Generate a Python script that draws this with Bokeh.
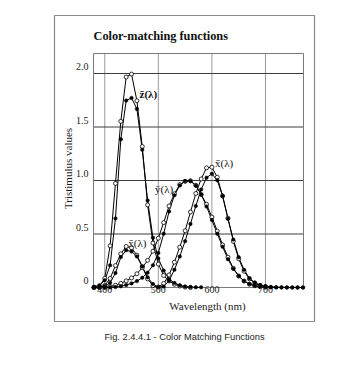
import math
from bokeh.plotting import figure
from bokeh.embed import file_html
from bokeh.resources import INLINE
from bokeh.models import Range1d, Title
from bokeh.core.properties import value

# ---------------- data ----------------
# CIE 1931 2-degree observer (filled dots)
wl_1931 = [380, 390, 400, 410, 420, 430, 440, 450, 460, 470, 480, 490, 500, 510, 520,
           530, 540, 550, 560, 570, 580, 590, 600, 610, 620, 630, 640, 650, 660, 670,
           680, 690, 700, 710, 720, 730, 740, 750, 760, 770]
x_1931 = [0.0014, 0.0042, 0.0143, 0.0435, 0.1344, 0.2839, 0.3483, 0.3362, 0.2908, 0.1954,
          0.0956, 0.0320, 0.0049, 0.0093, 0.0633, 0.1655, 0.2904, 0.4334, 0.5945, 0.7621,
          0.9163, 1.0263, 1.0622, 1.0026, 0.8544, 0.6424, 0.4479, 0.2835, 0.1649, 0.0874,
          0.0468, 0.0227, 0.0114, 0.0058, 0.0029, 0.0014, 0.0007, 0.0003, 0.0002, 0.0001]
y_1931 = [0.0000, 0.0001, 0.0004, 0.0012, 0.0040, 0.0116, 0.0230, 0.0380, 0.0600, 0.0910,
          0.1390, 0.2080, 0.3230, 0.5030, 0.7100, 0.8620, 0.9540, 0.9950, 0.9950, 0.9520,
          0.8700, 0.7570, 0.6310, 0.5030, 0.3810, 0.2650, 0.1750, 0.1070, 0.0610, 0.0320,
          0.0170, 0.0082, 0.0041, 0.0021, 0.0010, 0.0005, 0.0002, 0.0001, 0.0001, 0.0000]
wl_z_1931 = [380, 390, 400, 410, 420, 430, 440, 450, 460, 470, 480, 490, 500, 510, 520,
             530, 540, 550, 560, 570, 580]
z_1931 = [0.0065, 0.0201, 0.0679, 0.2074, 0.6456, 1.3856, 1.7471, 1.7721, 1.6692, 1.2876,
          0.8130, 0.4652, 0.2720, 0.1582, 0.0782, 0.0422, 0.0203, 0.0087, 0.0039, 0.0021,
          0.0017]

# CIE 1964 10-degree observer (open circles)
wl_1964 = [380, 390, 400, 410, 420, 430, 440, 450, 460, 470, 480, 490, 500, 510, 520,
           530, 540, 550, 560, 570, 580, 590, 600, 610, 620, 630, 640, 650, 660, 670,
           680, 690, 700]
x_1964 = [0.0002, 0.0024, 0.0191, 0.0847, 0.2045, 0.3147, 0.3837, 0.3707, 0.3023, 0.1956,
          0.0805, 0.0162, 0.0038, 0.0375, 0.1177, 0.2365, 0.3768, 0.5298, 0.7052, 0.8787,
          1.0142, 1.1185, 1.1240, 1.0305, 0.8563, 0.6475, 0.4316, 0.2683, 0.1526, 0.0813,
          0.0409, 0.0199, 0.0096]
y_1964 = [0.0000, 0.0003, 0.0020, 0.0088, 0.0214, 0.0387, 0.0621, 0.0895, 0.1282, 0.1852,
          0.2536, 0.3391, 0.4608, 0.6067, 0.7618, 0.8752, 0.9620, 0.9918, 0.9973, 0.9556,
          0.8689, 0.7774, 0.6583, 0.5280, 0.3981, 0.2835, 0.1798, 0.1076, 0.0603, 0.0318,
          0.0159, 0.0077, 0.0037]
wl_z_1964 = [380, 390, 400, 410, 420, 430, 440, 450, 460, 470, 480, 490, 500, 510, 520,
             530, 540, 550, 560]
z_1964 = [0.0007, 0.0105, 0.0860, 0.3894, 0.9725, 1.5535, 1.9673, 1.9948, 1.7454, 1.3176,
          0.7721, 0.4153, 0.2185, 0.1120, 0.0607, 0.0305, 0.0137, 0.0040, 0.0000]

x_ticks = [400, 500, 600, 700]
x_tick_labels = ["400", "500", "600", "700"]
y_ticks = [0, 0.5, 1.0, 1.5, 2.0]
y_tick_labels = ["0", "0.5", "1.0", "1.5", "2.0"]
y_grid = [0.5, 1.0, 1.5, 2.0]

curve_labels = ["z\u0304(\u03bb)", "x\u0304(\u03bb)", "y\u0304(\u03bb)", "x\u0304(\u03bb)"]
curve_label_x = [465, 606, 494, 444]
curve_label_y = [1.81, 1.16, 0.92, 0.42]

title = "Color-matching functions"
x_title = "Wavelength (nm)"
y_title = "Tristimulus values"
caption = "Fig. 2.4.4.1 - Color Matching Functions"

# ---------------- geometry ----------------
X_LO, X_HI = 379.0, 771.0          # plotted wavelength range (inner box)
Y_LO, Y_HI = 0.0, 2.187            # plotted value range (inner box)
PX0, PX1, PY0, PY1 = 93, 303, 53, 287   # inner box on the page (px)
FL, FR, FT, FB = 54, 314, 15, 321        # outer figure box = Bokeh frame (px)
W, H = 356, 365                          # canvas size (px), placed at page (0, 0)
sx = (PX1 - PX0) / (X_HI - X_LO)
sy = (PY1 - PY0) / (Y_HI - Y_LO)


def xp(px):
    return X_LO + (px - PX0) / sx


def yp(py):
    return Y_LO + (PY1 - py) / sy


SERIF = value("Liberation Serif")
INK = "#1a1a1a"

p = figure(width=W, height=H, output_backend="svg", toolbar_location=None,
           x_range=Range1d(xp(FL), xp(FR)), y_range=Range1d(yp(FB), yp(FT)),
           x_axis_location=None, y_axis_location=None,
           min_border_left=FL, min_border_right=W - FR,
           min_border_top=FT, min_border_bottom=H - FB)
p.grid.visible = False
p.outline_line_color = "#8a8a8a"
p.outline_line_width = 1.2
p.background_fill_color = "white"
p.border_fill_color = "white"

# grid lines
p.segment(x0=x_ticks, y0=[Y_LO] * len(x_ticks), x1=x_ticks, y1=[Y_HI] * len(x_ticks),
          line_color="#9a9a9a", line_width=1)
p.segment(x0=[X_LO] * len(y_grid), y0=y_grid, x1=[X_HI] * len(y_grid), y1=y_grid,
          line_color="#3c3c3c", line_width=1)
# inner plot box
p.multi_line(xs=[[X_LO, X_HI, X_HI, X_LO, X_LO]], ys=[[Y_HI, Y_HI, Y_LO, Y_LO, Y_HI]],
             line_color="#7a7a7a", line_width=1)

# tick labels
p.text(x=x_ticks, y=[yp(289)] * len(x_ticks), text=x_tick_labels, text_font=SERIF,
       text_font_size="10px", text_align="center", text_baseline="middle",
       text_color=INK)
p.text(x=[xp(88)] * len(y_ticks), y=[t + 7 / sy for t in y_ticks], text=y_tick_labels,
       text_font=SERIF, text_font_size="10px", text_align="right",
       text_baseline="middle", text_color=INK)

# titles
p.text(x=[xp(93)], y=[yp(35)], text=[title], text_font=SERIF, text_font_size="12.3px",
       text_font_style="bold", text_align="left", text_baseline="middle",
       text_color="#111111")
p.text(x=[xp(67)], y=[yp(168)], text=[y_title], angle=math.pi / 2, text_font=SERIF,
       text_font_size="11px", text_align="center", text_baseline="middle",
       text_color=INK)
p.text(x=[xp(207)], y=[yp(305)], text=[x_title], text_font=SERIF,
       text_font_size="11px", text_align="center", text_baseline="middle",
       text_color=INK)

# curves
LW = 1.0
for wl, vals in [(wl_1964, x_1964), (wl_1964, y_1964), (wl_z_1964, z_1964),
                 (wl_1931, x_1931), (wl_1931, y_1931), (wl_z_1931, z_1931)]:
    p.line(wl, vals, line_color="black", line_width=LW)
for wl, vals in [(wl_1964, x_1964), (wl_1964, y_1964), (wl_z_1964, z_1964)]:
    p.scatter(wl, vals, size=4, marker="circle", fill_color="white",
              line_color="black", line_width=0.8)
for wl, vals in [(wl_1931, x_1931), (wl_1931, y_1931), (wl_z_1931, z_1931)]:
    p.scatter(wl, vals, size=3.5, marker="circle", fill_color="black",
              line_color="black", line_width=0.5)

# curve labels
p.text(x=curve_label_x[:1], y=curve_label_y[:1], text=curve_labels[:1], text_font=SERIF,
       text_font_size="11px", text_font_style="bold", text_align="left",
       text_baseline="middle", text_color="#111111")
p.text(x=curve_label_x[1:], y=curve_label_y[1:], text=curve_labels[1:], text_font=SERIF,
       text_font_size="11px", text_align="left", text_baseline="middle",
       text_color="#111111")

# caption below the figure box
cap = Title(text=caption, align="center", text_font="Liberation Sans",
            text_font_size="9.3px", text_font_style="normal", text_color="#222222",
            standoff=17)
p.add_layout(cap, "below")

open("out.html", "w").write(file_html(p, INLINE))
